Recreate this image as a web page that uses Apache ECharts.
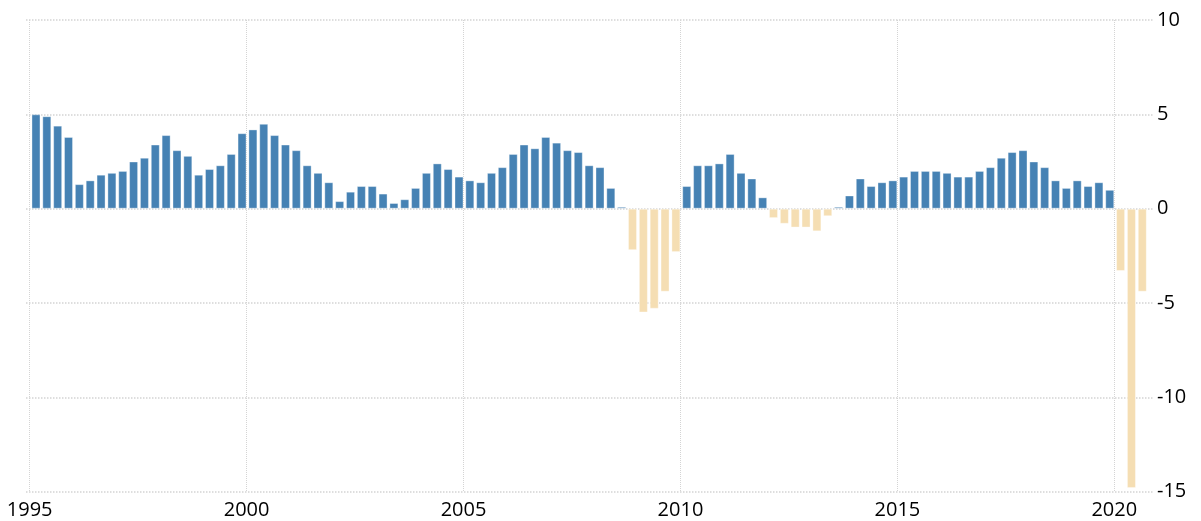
<!DOCTYPE html>
<html>
<head>
<meta charset="utf-8">
<script src="https://cdn.jsdelivr.net/npm/echarts@6/dist/echarts.min.js"></script>
<style>
  html, body { margin: 0; padding: 0; background: #fff; }
  #chart { width: 1201px; height: 521px; }
</style>
</head>
<body>
<div id="chart"></div>
<script>
// quarterly values, 1995 Q1 .. 2020 Q3
const firstYear = 1995;
const growth = [
  5.0, 4.9, 4.4, 3.8,
  1.3, 1.5, 1.8, 1.9,
  2.0, 2.5, 2.7, 3.4,
  3.9, 3.1, 2.8, 1.8,
  2.1, 2.3, 2.9, 4.0,
  4.2, 4.5, 3.9, 3.4,
  3.1, 2.3, 1.9, 1.4,
  0.4, 0.9, 1.2, 1.2,
  0.8, 0.3, 0.5, 1.1,
  1.9, 2.4, 2.1, 1.7,
  1.5, 1.4, 1.9, 2.2,
  2.9, 3.4, 3.2, 3.8,
  3.5, 3.1, 3.0, 2.3,
  2.2, 1.1, 0.1, -2.2,
  -5.5, -5.3, -4.4, -2.3,
  1.2, 2.3, 2.3, 2.4,
  2.9, 1.9, 1.6, 0.6,
  -0.5, -0.8, -1.0, -1.0,
  -1.2, -0.4, 0.1, 0.7,
  1.6, 1.2, 1.4, 1.5,
  1.7, 2.0, 2.0, 2.0,
  1.9, 1.7, 1.7, 2.0,
  2.2, 2.7, 3.0, 3.1,
  2.5, 2.2, 1.5, 1.1,
  1.5, 1.2, 1.4, 1.0,
  -3.3, -14.8, -4.4
];
const yearTicks = [1995, 2000, 2005, 2010, 2015, 2020];
const valueTicks = [-15, -10, -5, 0, 5, 10];

const positive = '#4682B4';
const negative = '#F5DEB3';

// each quarter sits in the middle of its slot inside the year
const points = growth.map((v, i) => [firstYear + i / 4 + 0.145, v]);

const chart = echarts.init(document.getElementById('chart'));
const option = {
  animation: false,
  grid: {
    left: 26,
    right: 47,
    top: 20,
    bottom: 29.3
  },
  xAxis: {
    type: 'value',
    min: 1994.915,
    max: 2020.915,
    minInterval: 5,
    maxInterval: 5,
    axisLine: { show: false },
    axisTick: { show: false },
    axisLabel: {
      margin: 9,
      fontFamily: 'Open Sans',
      fontSize: 20,
      color: '#000',
      showMinLabel: false,
      showMaxLabel: false,
      formatter(value) {
        return yearTicks.indexOf(value) >= 0 ? String(value) : '';
      }
    },
    splitLine: {
      show: true,
      showMinLine: false,
      showMaxLine: false,
      lineStyle: { type: 'dotted', color: '#d4d4d4', width: 1 }
    }
  },
  yAxis: {
    type: 'value',
    position: 'right',
    min: valueTicks[0],
    max: valueTicks[valueTicks.length - 1],
    interval: 5,
    axisLine: { show: false },
    axisTick: { show: false },
    axisLabel: {
      margin: 3,
      fontFamily: 'Open Sans',
      fontSize: 20,
      color: '#000'
    },
    splitLine: {
      lineStyle: { type: 'dotted', color: '#d4d4d4', width: 1.5 }
    }
  },
  series: [
    {
      type: 'bar',
      data: points,
      barWidth: 9,
      itemStyle: {
        color(p) {
          return p.value[1] >= 0 ? positive : negative;
        },
        borderColor: 'rgba(255,255,255,0.35)',
        borderWidth: 1
      }
    }
  ]
};

chart.setOption(option);
</script>
</body>
</html>
